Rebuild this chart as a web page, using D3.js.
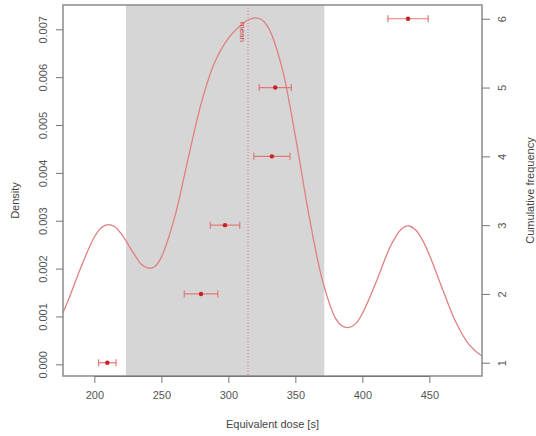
<!DOCTYPE html>
<html>
<head>
<meta charset="utf-8">
<script src="https://cdn.jsdelivr.net/npm/d3@7"></script>
<style>
  html, body { margin: 0; padding: 0; background: #fff; }
  svg { display: block; font-family: "Liberation Sans", Arial, sans-serif; }
</style>
</head>
<body>
<svg id="chart" width="536" height="436"></svg>
<script>
// Equivalent dose estimates with their standard errors (sorted)
const doseValues = [209.7, 279.6, 297.5, 332.5, 335.0, 434.1];
const doseErrors = [6.5, 12.5, 11.0, 13.5, 12.0, 15.0];
const cumulativeFreq = [1, 2, 3, 4, 5, 6];

// Kernel density estimate of the doses, sampled along the dose axis
const densityX = [170, 180, 190, 200, 205, 210, 215, 220, 230, 235, 240, 245, 250, 260, 270, 280, 290, 300,
                  310, 315, 320, 325, 330, 340, 350, 360, 370, 380, 385, 390, 395, 400, 410, 420, 425,
                  430, 435, 440, 445, 450, 460, 470, 480, 490, 500];
const densityY = [0.00068, 0.00130, 0.00203, 0.00266, 0.00285, 0.00292, 0.00288, 0.00273, 0.00229, 0.00209,
                  0.00201, 0.00204, 0.00224, 0.00308, 0.00430, 0.00548, 0.00632, 0.00681, 0.00710, 0.00720,
                  0.00724, 0.00720, 0.00703, 0.00620, 0.00477, 0.00314, 0.00178, 0.00096, 0.00080, 0.00077,
                  0.00085, 0.00106, 0.00170, 0.00241, 0.00267, 0.00285, 0.00289, 0.00280, 0.00259, 0.00229,
                  0.00156, 0.00087, 0.00040, 0.00016, 0.00005];

// Summary statistics
const doseMean = 314.7;
const bandRange = [223.6, 371.6];

// Axis ticks
const xTicks = [200, 250, 300, 350, 400, 450];
const densityTicks = [0, 0.001, 0.002, 0.003, 0.004, 0.005, 0.006, 0.007];
const freqTicks = [1, 2, 3, 4, 5, 6];

const svg = d3.select("#chart");
const plot = { left: 63, right: 482, top: 5, bottom: 376 };

const x = d3.scaleLinear().domain([176.6, 489.3]).range([plot.left, plot.right]);
const yDens = d3.scaleLinear().domain([-0.000244, 0.007508]).range([plot.bottom, plot.top]);
const yFreq = d3.scaleLinear().domain([0.807, 6.2]).range([plot.bottom, plot.top]);

svg.append("defs").append("clipPath").attr("id", "plotClip")
  .append("rect")
  .attr("x", plot.left).attr("y", plot.top)
  .attr("width", plot.right - plot.left).attr("height", plot.bottom - plot.top);

const inner = svg.append("g").attr("clip-path", "url(#plotClip)");

// Shaded band
inner.append("rect")
  .attr("x", x(bandRange[0]))
  .attr("y", plot.top)
  .attr("width", x(bandRange[1]) - x(bandRange[0]))
  .attr("height", plot.bottom - plot.top)
  .attr("fill", "#d6d6d6");

// Mean line
inner.append("line")
  .attr("x1", x(doseMean)).attr("x2", x(doseMean))
  .attr("y1", plot.top).attr("y2", plot.bottom)
  .attr("stroke", "#e07070")
  .attr("stroke-width", 1)
  .attr("stroke-dasharray", "1,2");

svg.append("text")
  .attr("transform", `translate(${x(doseMean) - 8},${plot.top + 17}) rotate(90)`)
  .attr("font-size", 8)
  .attr("fill", "#d04040")
  .text("mean");

// Density curve
const densityData = densityX.map((d, i) => [d, densityY[i]]);
inner.append("path")
  .datum(densityData)
  .attr("fill", "none")
  .attr("stroke", "#e08080")
  .attr("stroke-width", 1.3)
  .attr("d", d3.line().x(d => x(d[0])).y(d => yDens(d[1])).curve(d3.curveCatmullRom.alpha(0.5)));

// Error bars and points
const pts = doseValues.map((v, i) => ({ v, e: doseErrors[i], f: cumulativeFreq[i] }));
const eb = inner.append("g").attr("stroke", "#e07878").attr("stroke-width", 1.2);
pts.forEach(p => {
  const yy = yFreq(p.f);
  eb.append("line").attr("x1", x(p.v - p.e)).attr("x2", x(p.v + p.e)).attr("y1", yy).attr("y2", yy);
  eb.append("line").attr("x1", x(p.v - p.e)).attr("x2", x(p.v - p.e)).attr("y1", yy - 3.5).attr("y2", yy + 3.5);
  eb.append("line").attr("x1", x(p.v + p.e)).attr("x2", x(p.v + p.e)).attr("y1", yy - 3.5).attr("y2", yy + 3.5);
});
inner.selectAll("circle.pt").data(pts).enter().append("circle")
  .attr("class", "pt")
  .attr("cx", d => x(d.v)).attr("cy", d => yFreq(d.f))
  .attr("r", 2.2)
  .attr("fill", "#cc2020");

// Plot box
svg.append("rect")
  .attr("x", plot.left).attr("y", plot.top)
  .attr("width", plot.right - plot.left).attr("height", plot.bottom - plot.top)
  .attr("fill", "none").attr("stroke", "#8a8a8a").attr("stroke-width", 1.5);

const axisColor = "#777";
const labelColor = "#555";

// Bottom axis
const xAxis = svg.append("g")
  .attr("transform", `translate(0,${plot.bottom})`)
  .call(d3.axisBottom(x).tickValues(xTicks).tickSize(7).tickPadding(8).tickFormat(d3.format("d")));
xAxis.select(".domain").attr("d", `M${x(200)},0.5H${x(450)}`).attr("stroke", axisColor);
xAxis.selectAll(".tick line").attr("stroke", axisColor);
xAxis.selectAll(".tick text").attr("fill", labelColor).attr("font-size", 11)
  .attr("font-family", "Liberation Sans, Arial, sans-serif");

// Left axis (density)
const yAxisL = svg.append("g")
  .attr("transform", `translate(${plot.left},0)`)
  .call(d3.axisLeft(yDens).tickValues(densityTicks).tickSize(7).tickFormat(d3.format(".3f")));
yAxisL.select(".domain").remove();
yAxisL.selectAll(".tick line").attr("stroke", axisColor);
yAxisL.selectAll(".tick text")
  .attr("fill", labelColor).attr("font-size", 11)
  .attr("font-family", "Liberation Sans, Arial, sans-serif")
  .attr("x", 0).attr("dy", 0).attr("text-anchor", "middle")
  .attr("transform", "translate(-16,0) rotate(-90)");

// Right axis (cumulative frequency)
const yAxisR = svg.append("g")
  .attr("transform", `translate(${plot.right},0)`)
  .call(d3.axisRight(yFreq).tickValues(freqTicks).tickSize(8).tickFormat(d3.format("d")));
yAxisR.select(".domain").remove();
yAxisR.selectAll(".tick line").attr("stroke", axisColor);
yAxisR.selectAll(".tick text")
  .attr("fill", labelColor).attr("font-size", 11)
  .attr("font-family", "Liberation Sans, Arial, sans-serif")
  .attr("x", 0).attr("dy", 0).attr("text-anchor", "middle")
  .attr("transform", "translate(24,0) rotate(-90)");

// Axis titles
svg.append("text")
  .attr("x", (plot.left + plot.right) / 2 + 0).attr("y", 428)
  .attr("text-anchor", "middle").attr("font-size", 11).attr("fill", "#444")
  .text("Equivalent dose [s]");

svg.append("text")
  .attr("transform", `translate(19,${(plot.top + plot.bottom) / 2 + 10}) rotate(-90)`)
  .attr("text-anchor", "middle").attr("font-size", 11).attr("fill", "#444")
  .text("Density");

svg.append("text")
  .attr("transform", `translate(534,${(plot.top + plot.bottom) / 2}) rotate(-90)`)
  .attr("text-anchor", "middle").attr("font-size", 11).attr("fill", "#444")
  .text("Cumulative frequency");
</script>
</body>
</html>
